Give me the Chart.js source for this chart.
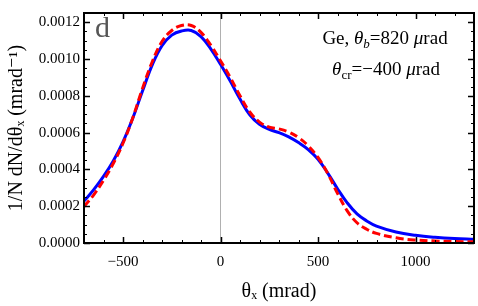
<!DOCTYPE html>
<html>
<head>
<meta charset="utf-8">
<style>html,body{margin:0;padding:0;background:#fff;}canvas{display:block;}</style>
<script src="https://cdn.jsdelivr.net/npm/chart.js@4/dist/chart.umd.min.js"></script>
</head>
<body>
<canvas id="c" width="478" height="306"></canvas>
<script>
// ---- data ----
const thetaX = [-700,-650,-600,-550,-500,-450,-400,-350,-300,-250,-200,-150,-100,-50,0,50,100,150,200,250,300,350,400,450,500,550,600,650,700,750,800,900,1000,1100,1200,1300];
const blueSeries = [0.000228,0.000290,0.000362,0.000446,0.000550,0.000678,0.000826,0.000968,0.001072,0.001130,0.001152,0.001155,0.001122,0.001055,0.000971,0.000880,0.000782,0.000697,0.000645,0.000617,0.000600,0.000577,0.000546,0.000508,0.000455,0.000380,0.000295,0.000218,0.000158,0.000120,0.000092,0.000060,0.000042,0.000031,0.000024,0.000020];
const redSeries = [0.000198,0.000262,0.000340,0.000432,0.000542,0.000680,0.000840,0.000985,0.001095,0.001155,0.001182,0.001182,0.001145,0.001075,0.000990,0.000900,0.000800,0.000712,0.000657,0.000630,0.000620,0.000603,0.000573,0.000528,0.000465,0.000378,0.000270,0.000175,0.000110,0.000075,0.000052,0.000028,0.000016,0.000011,0.000008,0.000007];
const xTicks = [-500,0,500,1000];
const yTicks = [0,0.0002,0.0004,0.0006,0.0008,0.0010,0.0012];
const xMinorStep = 100;
const yMinorStep = 0.00005;
const panelLabel = "d";
const noteLine1 = [["Ge, ","n"],["θ","i"],["b","isub"],["=820 ","n"],["μ","i"],["rad","n"]];
const noteLine2 = [["θ","i"],["cr","sub"],["=−400 ","n"],["μ","i"],["rad","n"]];

const SERIF = "'Liberation Serif', 'DejaVu Serif', serif";

const toPts = (ys) => thetaX.map((x, i) => ({x: x, y: ys[i]}));

function drawRuns(ctx, runs, cx, baseline, size) {
  const fontFor = (t) => {
    if (t === "n") return size + "px " + SERIF;
    if (t === "i") return "italic " + size + "px " + SERIF;
    if (t === "sub") return Math.round(size * 0.7) + "px " + SERIF;
    if (t === "isub") return "italic " + Math.round(size * 0.7) + "px " + SERIF;
  };
  let w = 0;
  runs.forEach(([s, t]) => { ctx.font = fontFor(t); w += ctx.measureText(s).width; });
  let x = cx - w / 2;
  ctx.textAlign = "left";
  ctx.textBaseline = "alphabetic";
  runs.forEach(([s, t]) => {
    ctx.font = fontFor(t);
    const dy = (t === "sub" || t === "isub") ? size * 0.22 : 0;
    ctx.fillText(s, x, baseline + dy);
    x += ctx.measureText(s).width;
  });
}

const framePlugin = {
  id: "frame",
  beforeDatasetsDraw(chart) {
    const {ctx, chartArea: a, scales: {x, y}} = chart;
    ctx.save();
    const px = x.getPixelForValue(0);
    ctx.strokeStyle = "#b0b0b0";
    ctx.lineWidth = 1;
    ctx.beginPath(); ctx.moveTo(px, a.top); ctx.lineTo(px, a.bottom); ctx.stroke();
    ctx.restore();
  },
  afterDraw(chart) {
    const {ctx, chartArea: a, scales: {x, y}} = chart;
    ctx.save();
    ctx.strokeStyle = "#000";
    for (let v = Math.ceil(x.min / xMinorStep) * xMinorStep; v <= x.max; v += xMinorStep) {
      const p = Math.round(x.getPixelForValue(v)) + 0.5;
      const major = xTicks.includes(v);
      const L = major ? 6 : 3;
      ctx.lineWidth = major ? 1.5 : 1;
      ctx.beginPath();
      ctx.moveTo(p, a.bottom); ctx.lineTo(p, a.bottom - L);
      ctx.moveTo(p, a.top); ctx.lineTo(p, a.top + L);
      ctx.stroke();
    }
    for (let k = 0; k * yMinorStep <= y.max + 1e-12; k++) {
      const v = k * yMinorStep;
      const p = Math.round(y.getPixelForValue(v)) + 0.5;
      const major = (k % 4 === 0);
      const L = major ? 6 : 3;
      ctx.lineWidth = major ? 1.5 : 1;
      ctx.beginPath();
      ctx.moveTo(a.left, p); ctx.lineTo(a.left + L, p);
      ctx.moveTo(a.right, p); ctx.lineTo(a.right - L, p);
      ctx.stroke();
    }
    ctx.lineWidth = 2;
    ctx.strokeRect(a.left, a.top, a.right - a.left, a.bottom - a.top);
    ctx.fillStyle = "#555";
    ctx.font = "30px " + SERIF;
    ctx.textAlign = "left";
    ctx.textBaseline = "alphabetic";
    ctx.fillText(panelLabel, a.left + 11, 37);
    ctx.fillStyle = "#000";
    drawRuns(ctx, noteLine1, 385, 44, 19);
    drawRuns(ctx, noteLine2, 386, 75, 19);
    ctx.restore();
  }
};

new Chart(document.getElementById("c"), {
  type: "line",
  data: {
    datasets: [
      {label: "red", data: toPts(redSeries), borderColor: "#ff0000", borderWidth: 3, borderDash: [8, 4], pointRadius: 0, tension: 0.4, fill: false, order: 0},
      {label: "blue", data: toPts(blueSeries), borderColor: "#0000ff", borderWidth: 3, pointRadius: 0, tension: 0.4, fill: false, order: 1}
    ]
  },
  options: {
    responsive: false,
    animation: false,
    layout: {padding: {left: 0, right: 4, top: 2, bottom: 0}},
    plugins: {legend: {display: false}, tooltip: {enabled: false}},
    scales: {
      x: {
        type: "linear", min: -700, max: 1300,
        grid: {display: false, drawTicks: false}, border: {display: false},
        afterBuildTicks: (s) => { s.ticks = xTicks.map(v => ({value: v})); },
        afterFit: (s) => { s.height = 63; },
        ticks: {padding: 10, color: "#000", font: {family: SERIF, size: 15}, maxRotation: 0,
                callback: (v) => (v < 0 ? "−" + Math.abs(v) : String(v))},
        title: {display: true, text: "θₓ (mrad)", color: "#000", font: {family: SERIF, size: 20}, padding: {top: 0, bottom: 2}}
      },
      y: {
        type: "linear", min: 0, max: 0.00125,
        grid: {display: false, drawTicks: false}, border: {display: false},
        afterBuildTicks: (s) => { s.ticks = yTicks.map(v => ({value: v})); },
        afterFit: (s) => { s.width = 84; },
        ticks: {padding: 4, color: "#000", font: {family: SERIF, size: 15},
                callback: (v) => Number(v).toFixed(4)},
        title: {display: true, text: "1/N dN/dθₓ (mrad⁻¹)", color: "#000", font: {family: SERIF, size: 20}, padding: {top: 5, bottom: 0}}
      }
    }
  },
  plugins: [framePlugin]
});
</script>
</body>
</html>
